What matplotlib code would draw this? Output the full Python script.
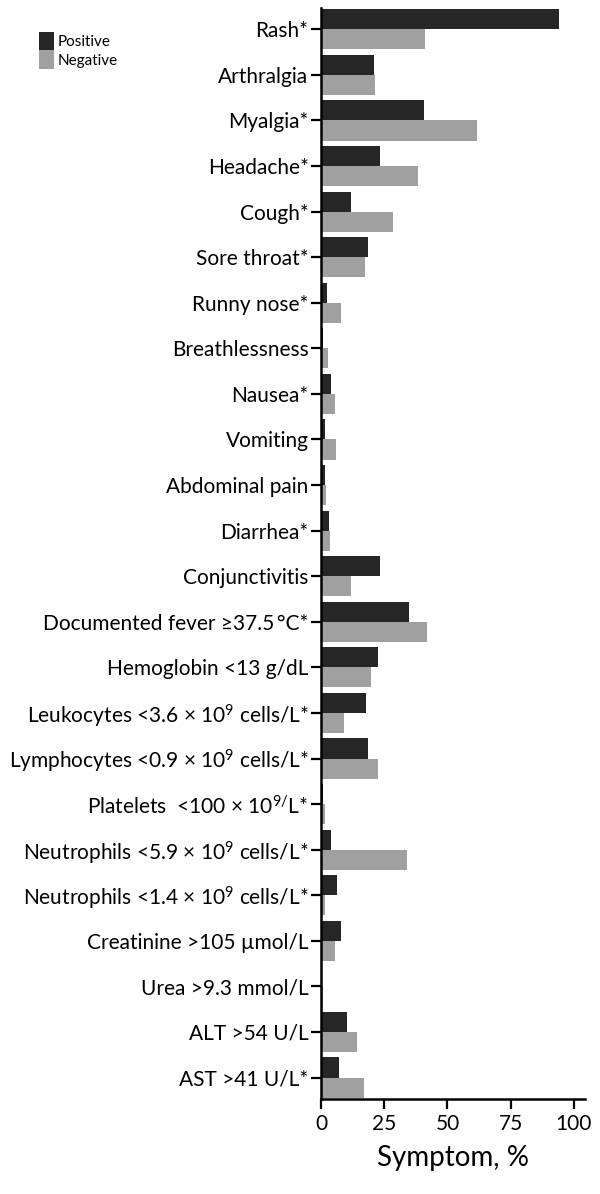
import numpy as np
import matplotlib
matplotlib.use("Agg")
import matplotlib.pyplot as plt

plt.rcParams['font.family'] = ['Lato', 'DejaVu Sans']
plt.rcParams['mathtext.fontset'] = 'custom'
plt.rcParams['mathtext.rm'] = 'Lato'
plt.rcParams['mathtext.it'] = 'Lato:italic'

# ---- data ----
labels = [
    "Rash*",
    "Arthralgia",
    "Myalgia*",
    "Headache*",
    "Cough*",
    "Sore throat*",
    "Runny nose*",
    "Breathlessness",
    "Nausea*",
    "Vomiting",
    "Abdominal pain",
    "Diarrhea*",
    "Conjunctivitis",
    "Documented fever \u226537.5\u2009\u00b0C*",
    "Hemoglobin <13 g/dL",
    "Leukocytes <3.6 \u00d7 10$^9$ cells/L*",
    "Lymphocytes <0.9 \u00d7 10$^9$ cells/L*",
    "Platelets  <100 \u00d7 10$^{9/}$L*",
    "Neutrophils <5.9 \u00d7 10$^9$ cells/L*",
    "Neutrophils <1.4 \u00d7 10$^9$ cells/L*",
    "Creatinine >105 \u00b5mol/L",
    "Urea >9.3 mmol/L",
    "ALT >54 U/L",
    "AST >41 U/L*",
]
positive = [94.0, 20.9, 40.8, 23.2, 11.7, 18.6, 2.4, 0.9, 3.9, 1.7, 1.7, 3.0,
            23.2, 34.7, 22.4, 17.9, 18.6, 0.8, 3.9, 6.4, 8.0, 0.0, 10.3, 7.3]
negative = [41.0, 21.4, 61.5, 38.5, 28.5, 17.3, 8.0, 2.7, 5.5, 6.1, 2.1, 3.5,
            12.0, 41.8, 19.8, 8.9, 22.4, 1.5, 33.9, 1.5, 5.6, 0.6, 14.2, 17.0]

# ---- plot ----
fig = plt.figure(figsize=(6, 11.94), dpi=100)
ax = fig.add_axes([0.535, 0.0796, 0.44, 0.9134])

y = np.arange(len(labels))
h = 0.44
ax.barh(y - h / 2, positive, height=h, color='#262626', label='Positive')
ax.barh(y + h / 2, negative, height=h, color='#a0a0a0', label='Negative')

ax.set_ylim(len(labels) - 1 + h + 0.03, -h - 0.02)
ax.set_xlim(0, 104.4)
ax.set_yticks(y)
ax.set_yticklabels(labels, fontsize=15)
ax.set_xticks([0, 25, 50, 75, 100])
ax.tick_params(axis='x', labelsize=15, length=7, width=1.6, pad=4)
ax.tick_params(axis='y', length=7, width=1.6, pad=2)
ax.set_xlabel("Symptom, %", fontsize=20, labelpad=8)

for s in ['top', 'right']:
    ax.spines[s].set_visible(False)
for s in ['left', 'bottom']:
    ax.spines[s].set_linewidth(1.8)

fig.legend(loc='upper left', bbox_to_anchor=(0.052, 0.98), frameon=False,
           fontsize=11, handlelength=1.0, handleheight=1.5, handletextpad=0.25,
           labelspacing=0.0, borderpad=0)

fig.savefig("out.png", dpi=100)
